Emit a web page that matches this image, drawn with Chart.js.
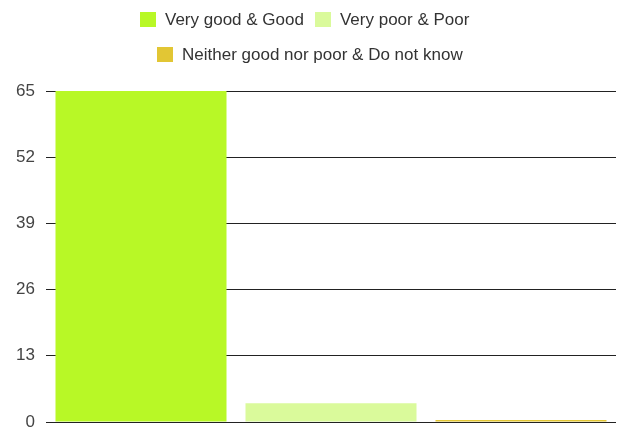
<!DOCTYPE html>
<html>
<head>
<meta charset="utf-8">
<script src="https://cdn.jsdelivr.net/npm/chart.js@4"></script>
<style>
  body { margin: 0; background: #fff; }
  #wrap { position: relative; width: 619px; height: 433px; }
  #grafik { position: absolute; left: 0; top: 0; }
  .row { position: absolute; display: flex; align-items: center; font: 17px "Liberation Sans", Arial, sans-serif; color: #333; white-space: nowrap; }
  .item { display: flex; align-items: center; margin-right: 11px; }
  .box { width: 16px; height: 15px; margin-right: 9px; }
</style>
</head>
<body>
<div id="wrap">
  <canvas id="grafik" width="619" height="433"></canvas>
  <div class="row" id="row1" style="left:140px; top:10px; height:19px;"></div>
  <div class="row" id="row2" style="left:157px; top:45px; height:19px;"></div>
</div>
<script>
const categories = ["Very good & Good", "Very poor & Poor", "Neither good nor poor & Do not know"];
const values = [65, 3.7, 0.4];
const colors = ["#b8f826", "#dafa9b", "#e2c634"];
const yTicks = [0, 13, 26, 39, 52, 65];

// legend in html, 2 rows
categories.forEach((c, i) => {
  const row = document.getElementById(i < 2 ? "row1" : "row2");
  const item = document.createElement("span");
  item.className = "item";
  item.innerHTML = `<span class="box" style="background:${colors[i]}"></span><span>${c.replace("&", "&amp;")}</span>`;
  row.appendChild(item);
});

const grafik = document.getElementById("grafik");
let chart = new Chart(grafik, {
  type: "bar",
  data: {
    labels: categories,
    datasets: [
      {
        data: values,
        backgroundColor: colors,
        barPercentage: 0.9,
        categoryPercentage: 1.0,
      },
    ],
  },
  options: {
    responsive: false,
    animation: false,
    layout: { padding: { top: 91, bottom: 11, right: 3, left: 0 } },
    plugins: { legend: { display: false }, tooltip: { enabled: false } },
    scales: {
      x: { display: false },
      y: {
        min: 0,
        max: 65,
        afterFit: (scale) => { scale.width = 46; },
        afterBuildTicks: (scale) => { scale.ticks = yTicks.map((v) => ({ value: v })); },
        border: { display: false },
        // tick marks kept invisible, only used to push the labels left
        grid: { color: "#222", drawTicks: true, tickLength: 11, tickColor: "rgba(0,0,0,0)" },
        ticks: {
          padding: 0,
          color: "#444",
          font: { family: "Liberation Sans", size: 17 },
        },
      },
    },
  },
});
</script>
</body>
</html>
